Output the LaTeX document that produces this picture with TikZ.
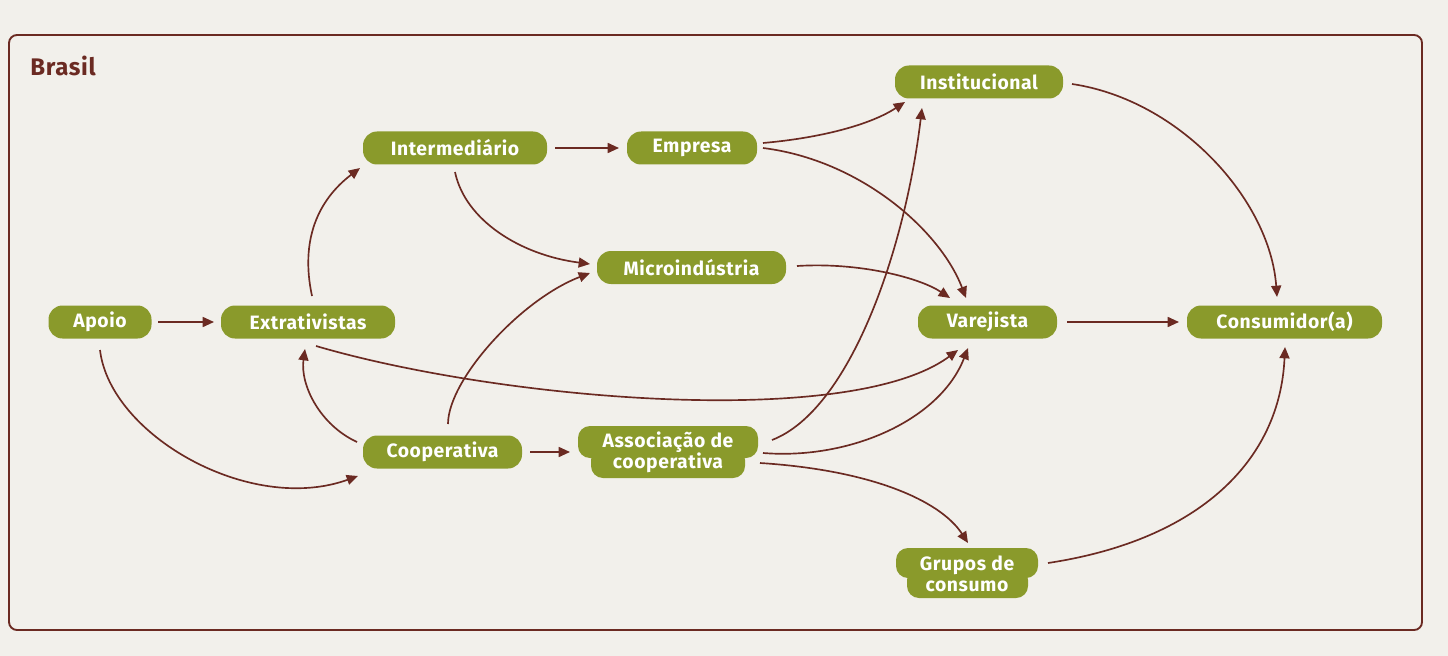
\documentclass[tikz,border=0pt]{standalone}
\usepackage{fontspec}
\setmainfont{Fira Sans}[LetterSpace=3]
\usetikzlibrary{arrows.meta,calc}
\definecolor{paper}{HTML}{F2F0EB}
\definecolor{leaf}{HTML}{8A9A2B}
\definecolor{bark}{HTML}{6B2A22}
\begin{document}
\begin{tikzpicture}[x=0.75pt,y=-0.75pt,
  box/.style={fill=leaf, text=white, font=\bfseries\fontsize{14.5}{16}\selectfont,
    minimum height=24.75pt, inner sep=0pt, rounded corners=10.5pt},
  twoline/.style={text=white, font=\bfseries\fontsize{14.5}{15.75}\selectfont,
    align=center, inner sep=0pt},
  lobe/.style={fill=leaf, rounded corners=9pt},
  arr/.style={draw=bark, line width=1.25pt, -{Triangle[length=8.5pt,width=7.5pt]}},
  frame/.style={draw=bark, line width=1.4pt, rounded corners=6pt},
  title/.style={text=bark, font=\bfseries\fontsize{18}{20}\selectfont, anchor=west, inner sep=0pt}]
\fill[paper] (0,0) rectangle (1448,656);
\useasboundingbox (0,0) rectangle (1448,656);
\draw[frame] (9,35) rectangle (1422,630);
\node[title] (brasil) at (30,66) {Brasil};

\node[box, minimum width=77.25pt] (apoio) at (100,322) {Apoio};
\node[box, minimum width=130.5pt] (extr) at (308,322) {Extrativistas};
\node[box, minimum width=138pt] (inter) at (455,148) {Intermediário};
\node[box, minimum width=97.5pt] (empresa) at (692,148) {Empresa};
\node[box, minimum width=141.75pt] (micro) at (691.5,267.5) {Microindústria};
\node[box, minimum width=119.25pt] (coop) at (442.5,452) {Cooperativa};
\node[box, minimum width=126pt] (inst) at (979,82) {Institucional};
\node[box, minimum width=104.25pt] (varej) at (987.5,322) {Varejista};
\node[box, minimum width=146.25pt] (consum) at (1284.5,322) {Consumidor(a)};

\fill[lobe] (578,426) rectangle (758,458);
\fill[lobe] (591,448) rectangle (745,478);
\node[twoline] (assoc) at (668,452) {Associação de\\cooperativa};
\fill[lobe] (896,548) rectangle (1038,578);
\fill[lobe] (907,568) rectangle (1028,598);
\node[twoline] (grupos) at (967,574) {Grupos de\\consumo};

% straight connectors
\draw[arr] ($(apoio)+(58,0)$) -- ($(extr)+(-94,0)$);
\draw[arr] ($(inter)+(100,0)$) -- ($(empresa)+(-73,0)$);
\draw[arr] ($(coop)+(87.5,0)$) -- ($(assoc)+(-98,0)$);
\draw[arr] ($(varej)+(79.5,0)$) -- ($(consum)+(-105.5,0)$);

% curved connectors
\draw[arr] ($(apoio)+(0,28)$) .. controls (110,435) and (250,515) .. ($(coop)+(-84.5,24)$);
\draw[arr] ($(extr)+(4,-26)$) .. controls (300,240) and (318,200) .. ($(inter)+(-95,20)$);
\draw[arr] ($(coop)+(-85.5,-10)$) .. controls (320,425) and (300,385) .. ($(extr)+(-3,27)$);
\draw[arr] ($(extr)+(8,24)$) .. controls (500,400) and (850,430) .. ($(varej)+(-29.5,28)$);
\draw[arr] ($(coop)+(5.5,-28)$) .. controls (448,380) and (520,300) .. ($(micro)+(-101.5,5.5)$);
\draw[arr] ($(inter)+(0,24)$) .. controls (465,220) and (520,255) .. ($(micro)+(-101.5,-3.5)$);
\draw[arr] ($(empresa)+(71,-5)$) .. controls (820,138) and (870,125) .. ($(inst)+(-74,20)$);
\draw[arr] ($(empresa)+(71,0)$) .. controls (860,160) and (940,230) .. ($(varej)+(-21.5,-24)$);
\draw[arr] ($(micro)+(105.5,-1.5)$) .. controls (860,262) and (920,278) .. ($(varej)+(-37.5,-24)$);
\draw[arr] ($(assoc)+(104,-12)$) .. controls (850,410) and (905,250) .. ($(inst)+(-57,26)$);
\draw[arr] ($(assoc)+(95,1)$) .. controls (850,460) and (940,420) .. ($(varej)+(-19.5,26)$);
\draw[arr] ($(assoc)+(92,11)$) .. controls (870,470) and (940,500) .. ($(grupos)+(1,-31)$);
\draw[arr] ($(inst)+(93,2)$) .. controls (1180,100) and (1270,200) .. ($(consum)+(-7.5,-25)$);
\draw[arr] ($(grupos)+(81,-11)$) .. controls (1200,540) and (1280,460) .. ($(consum)+(0.5,25)$);
\end{tikzpicture}
\end{document}
